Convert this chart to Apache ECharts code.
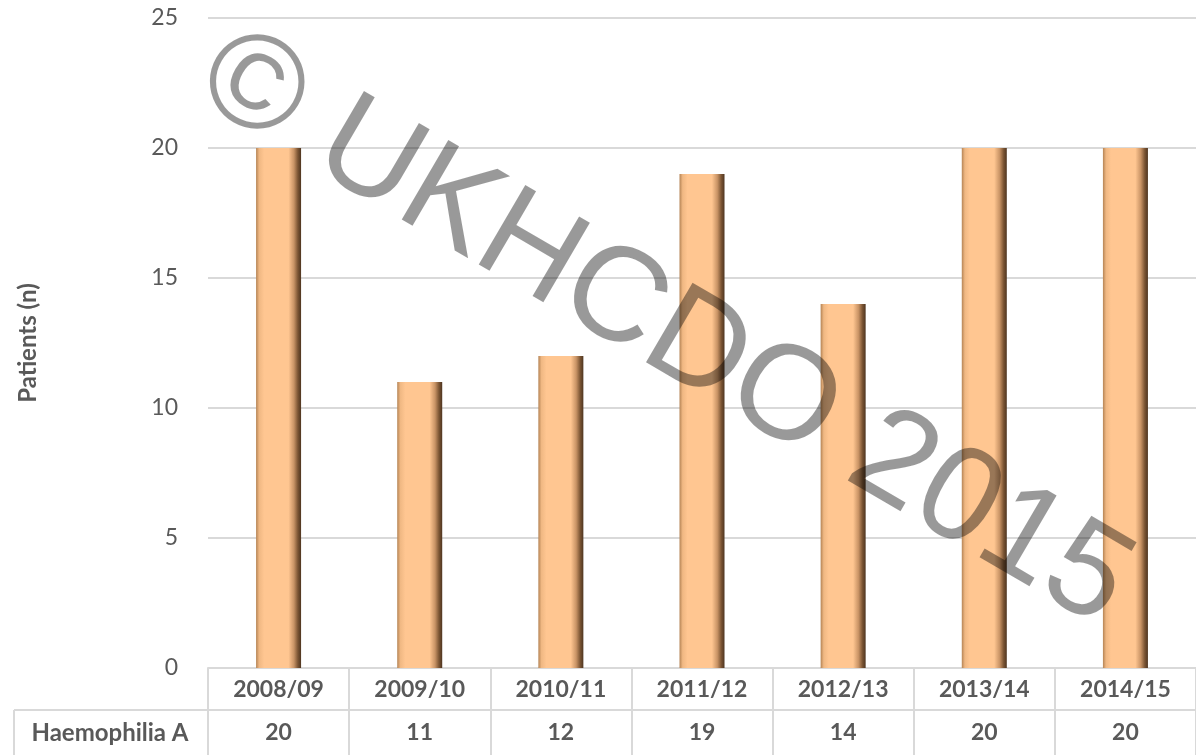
<!DOCTYPE html>
<html>
<head>
<meta charset="utf-8">
<script src="https://cdn.jsdelivr.net/npm/echarts@6/dist/echarts.min.js"></script>
<style>
  html, body { margin: 0; padding: 0; background: #fff; }
  #chart { width: 1196px; height: 755px; }
</style>
</head>
<body>
<div id="chart"></div>
<script>
// data
var seasons = ["2008/09", "2009/10", "2010/11", "2011/12", "2012/13", "2013/14", "2014/15"];
var haemophiliaA = [20, 11, 12, 19, 14, 20, 20];
var seriesName = "Haemophilia A";
var yTicks = { min: 0, max: 25, interval: 5 };

var FONT = "Lato, 'Open Sans', sans-serif";
var TXT = "#595959";
var LINE = "#d9d9d9";

var chart = echarts.init(document.getElementById("chart"), null, { renderer: "canvas" });

// bar fill, peach with shaded edges
var barFill = new echarts.graphic.LinearGradient(0, 0, 1, 0, [
    { offset: 0, color: "#b58455" },
    { offset: 0.07, color: "#f0b883" },
    { offset: 0.18, color: "#ffc691" },
    { offset: 0.72, color: "#ffc691" },
    { offset: 0.84, color: "#c99466" },
    { offset: 0.93, color: "#7a5433" },
    { offset: 1, color: "#4e3520" }
]);

var option = {
    animation: false,
    backgroundColor: "#fff",
    grid: { left: 208, right: 0, top: 18, bottom: 87, containLabel: false },
    xAxis: [{
        type: "category",
        data: seasons,
        position: "bottom",
        axisLine: { show: true, lineStyle: { color: LINE, width: 2 } },
        axisTick: { show: true, inside: false, length: 87, lineStyle: { color: LINE, width: 2 } },
        axisLabel: { color: TXT, fontFamily: FONT, fontWeight: "bold", fontSize: 23, margin: 10 }
    }, {
        type: "category",
        data: haemophiliaA.map(String),
        position: "bottom",
        offset: 42,
        axisLine: { show: true, lineStyle: { color: LINE, width: 2 } },
        axisTick: { show: false },
        axisLabel: { color: TXT, fontFamily: FONT, fontWeight: "bold", fontSize: 23, margin: 11 }
    }],
    yAxis: {
        type: "value",
        min: yTicks.min,
        max: yTicks.max,
        interval: yTicks.interval,
        name: "Patients (n)",
        nameLocation: "middle",
        nameGap: 168,
        nameTextStyle: { color: TXT, fontFamily: FONT, fontWeight: "bold", fontSize: 24 },
        axisLine: { show: false },
        axisTick: { show: false },
        axisLabel: { color: TXT, fontFamily: FONT, fontSize: 23, margin: 30 },
        splitLine: { lineStyle: { color: LINE, width: 2 } }
    },
    series: [{
        name: seriesName,
        type: "bar",
        xAxisIndex: 0,
        data: haemophiliaA,
        barWidth: 45,
        itemStyle: { color: barFill }
    }],
    graphic: [
        // row header of the data table
        { type: "line", shape: { x1: 14, y1: 710, x2: 208, y2: 710 }, style: { stroke: LINE, lineWidth: 2 } },
        { type: "line", shape: { x1: 14, y1: 710, x2: 14, y2: 755 }, style: { stroke: LINE, lineWidth: 2 } },
        {
            type: "text", x: 110, y: 733,
            style: { text: seriesName, fill: TXT, font: "bold 24px " + FONT, align: "center", verticalAlign: "middle" }
        },
        // watermark
        {
            type: "text", x: 664, y: 330, rotation: -30.3 * Math.PI / 180, z: 100,
            style: {
                text: "\u00a9 UKHCDO 2015",
                fill: "rgba(0,0,0,0.4)",
                font: "134px 'Liberation Sans', Arial, sans-serif",
                align: "center",
                verticalAlign: "middle"
            }
        }
    ]
};

chart.setOption(option);
</script>
</body>
</html>
